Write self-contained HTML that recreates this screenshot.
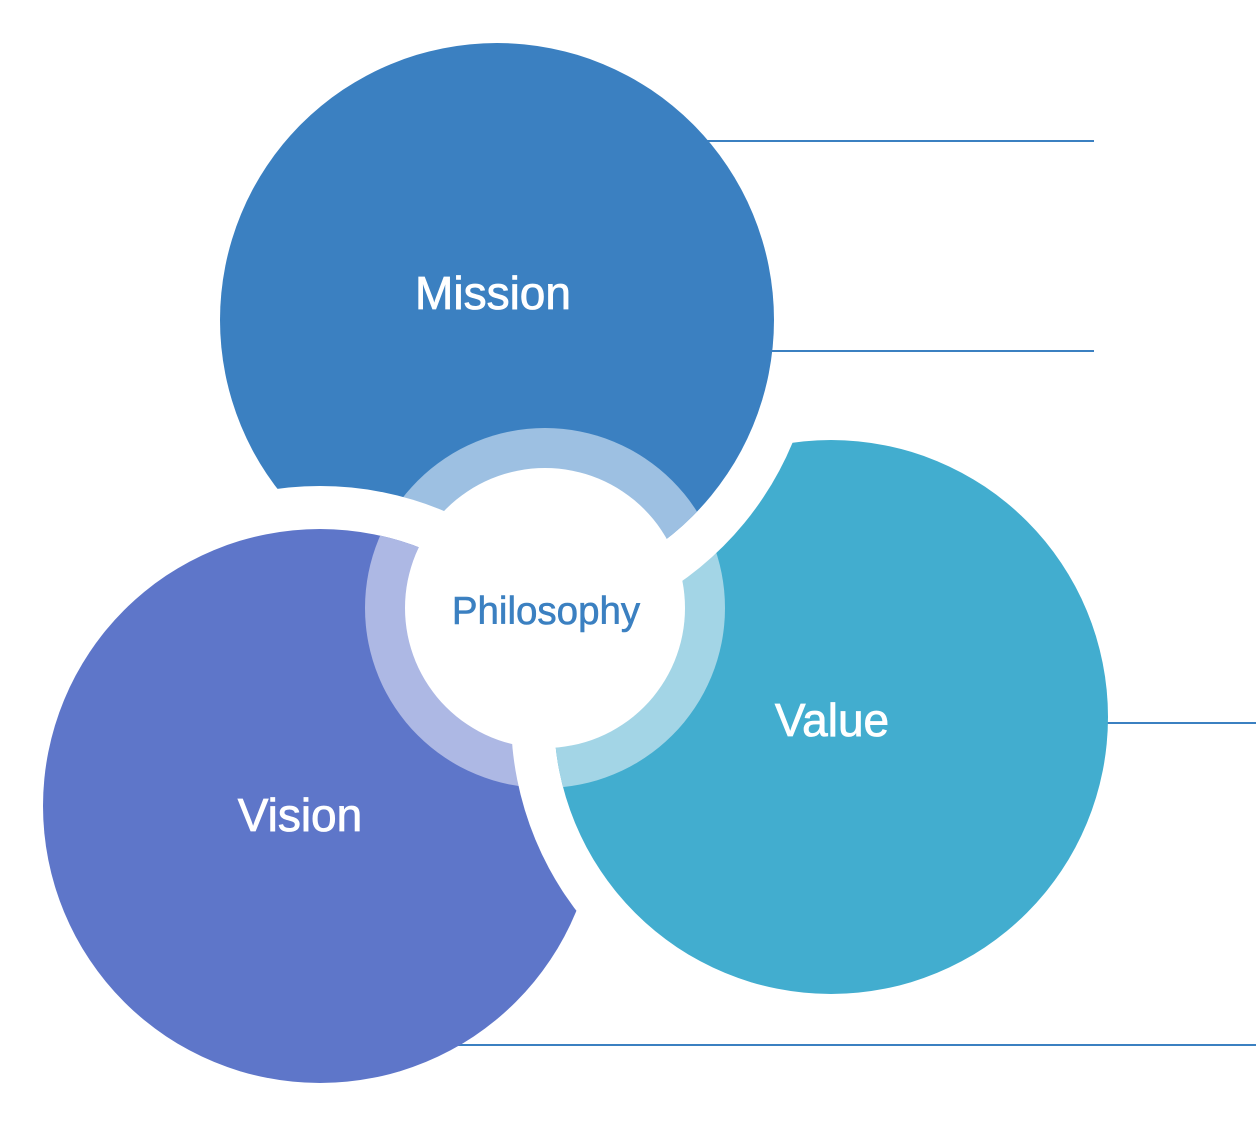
<!DOCTYPE html>
<html><head><meta charset="utf-8"><style>
html,body{margin:0;padding:0;background:#fff;}
svg{display:block;}
text{font-family:"Liberation Sans","DejaVu Sans",sans-serif;}
</style></head><body>
<svg width="1256" height="1128" viewBox="0 0 1256 1128" xmlns="http://www.w3.org/2000/svg">
<defs>
<mask id="mMission" maskUnits="userSpaceOnUse" x="0" y="0" width="1256" height="1128">
<rect width="1256" height="1128" fill="#fff"/><circle cx="320" cy="806" r="320" fill="#000"/></mask>
<mask id="mValue" maskUnits="userSpaceOnUse" x="0" y="0" width="1256" height="1128">
<rect width="1256" height="1128" fill="#fff"/><circle cx="497" cy="320" r="320" fill="#000"/></mask>
<mask id="mVision" maskUnits="userSpaceOnUse" x="0" y="0" width="1256" height="1128">
<rect width="1256" height="1128" fill="#fff"/><circle cx="831" cy="717" r="320" fill="#000"/></mask>
<clipPath id="cMission"><circle cx="497" cy="320" r="277"/></clipPath>
<clipPath id="cValue"><circle cx="831" cy="717" r="277"/></clipPath>
<clipPath id="cVision"><circle cx="320" cy="806" r="277"/></clipPath>
</defs>
<g stroke="#3b80c1" stroke-width="2">
<line x1="700" y1="141" x2="1094" y2="141"/>
<line x1="770" y1="351" x2="1094" y2="351"/>
<line x1="1105" y1="723" x2="1256" y2="723"/>
<line x1="455" y1="1045" x2="1256" y2="1045"/>
</g>
<g mask="url(#mMission)">
<circle cx="497" cy="320" r="277" fill="#3b80c1"/>
<circle cx="545" cy="608" r="180" fill="#9dc0e2" clip-path="url(#cMission)"/>
</g>
<g mask="url(#mValue)">
<circle cx="831" cy="717" r="277" fill="#42adcf"/>
<circle cx="545" cy="608" r="180" fill="#a3d5e6" clip-path="url(#cValue)"/>
</g>
<g mask="url(#mVision)">
<circle cx="320" cy="806" r="277" fill="#5e76c9"/>
<circle cx="545" cy="608" r="180" fill="#adb8e4" clip-path="url(#cVision)"/>
</g>
<circle cx="545" cy="608" r="140" fill="#fff"/>
<text x="493" y="309" font-size="46" fill="#fff" stroke="#fff" stroke-width="0.8" text-anchor="middle">Mission</text>
<text x="832" y="736" font-size="46" fill="#fff" stroke="#fff" stroke-width="0.8" text-anchor="middle">Value</text>
<text x="300" y="831" font-size="46" fill="#fff" stroke="#fff" stroke-width="0.8" text-anchor="middle">Vision</text>
<text x="546" y="624" font-size="38.5" fill="#3b80c1" stroke="#3b80c1" stroke-width="0.6" text-anchor="middle">Philosophy</text>
</svg>
</body></html>
